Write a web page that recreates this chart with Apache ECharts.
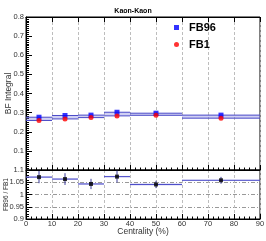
<!DOCTYPE html>
<html><head><meta charset="utf-8">
<script src="https://cdn.jsdelivr.net/npm/echarts@6/dist/echarts.min.js"></script>
<style>html,body{margin:0;padding:0;background:#fff}#c{width:266px;height:241px}</style>
</head><body><div id="c"></div>
<script>
const binEdges = [0, 10, 20, 30, 40, 60, 90];
const centers = [5, 15, 25, 35, 50, 75];
const fb96 = [0.276, 0.285, 0.287, 0.302, 0.297, 0.287];
const fb1 = [0.259, 0.267, 0.274, 0.283, 0.286, 0.271];
const ratio = [1.071, 1.063, 1.043, 1.073, 1.041, 1.058];
const ratioErr = [0.025, 0.024, 0.021, 0.024, 0.015, 0.014];
const ratioBand = [0.003, 0.003, 0.003, 0.003, 0.004, 0.002];
const xTicks = [0, 10, 20, 30, 40, 50, 60, 70, 80, 90];

const FONT = 'Liberation Sans';
const lineCol = '#4a4ac8';
const bandCol = 'rgba(120,120,220,0.35)';
const gridCol = '#bdbdbd';

const topBins = centers.map((c, i) => [binEdges[i], binEdges[i + 1], fb96[i], fb1[i]]);
const botBins = centers.map((c, i) => [binEdges[i], binEdges[i + 1], ratio[i], ratioBand[i]]);
const errBars = centers.map((c, i) => [c, ratio[i], ratioErr[i]]);

function xAxisBase(gi, showLabel) {
  return {
    type: 'value', gridIndex: gi, min: xTicks[0], max: xTicks[xTicks.length - 1], interval: 10,
    axisLine: { show: true, onZero: false, lineStyle: { color: '#000', width: 1 } },
    axisTick: { show: true, inside: true, length: 5, lineStyle: { color: '#000' } },
    minorTick: { show: true, splitNumber: 5, length: 2.5, lineStyle: { color: '#000' } },
    axisLabel: { show: showLabel, fontFamily: FONT, fontSize: 7.5, color: '#333', margin: 1 },
    splitLine: { show: true, lineStyle: { color: gridCol, type: [3, 2], width: 1 } }
  };
}

const option = {
  animation: false,
  title: {
    text: 'Kaon-Kaon', left: 'center', top: 3,
    textStyle: { fontFamily: FONT, fontSize: 7, fontWeight: 'bold', color: '#000' }
  },
  legend: {
    orient: 'vertical', left: 169, top: 17, itemGap: 6,
    itemWidth: 5, itemHeight: 5,
    textStyle: { fontFamily: FONT, fontSize: 11, fontWeight: 'bold', color: '#000', padding: [0, 0, 0, 5] },
    data: [
      { name: 'FB96', icon: 'rect' },
      { name: 'FB1', icon: 'circle' }
    ]
  },
  grid: [
    { left: 26, right: 6, top: 17, height: 153, containLabel: false, outerBoundsMode: 'none', show: true, borderColor: '#000', borderWidth: 1, backgroundColor: 'transparent' },
    { left: 26, right: 6, top: 170, height: 49, containLabel: false, outerBoundsMode: 'none', show: true, borderColor: '#000', borderWidth: 1, backgroundColor: 'transparent' }
  ],
  xAxis: [
    xAxisBase(0, false),
    Object.assign(xAxisBase(1, true), {
      name: 'Centrality (%)', nameLocation: 'middle', nameGap: 8, nameMoveOverlap: false,
      nameTextStyle: { fontFamily: FONT, fontSize: 8.5, color: '#333' }
    }),
    Object.assign(xAxisBase(0, false), { position: 'top', splitLine: { show: false }, minorTick: { show: false } })
  ],
  yAxis: [
    {
      type: 'value', gridIndex: 0, min: 0, max: 0.8, interval: 0.1,
      name: 'BF Integral', nameLocation: 'middle', nameGap: 13, nameMoveOverlap: false,
      nameTextStyle: { fontFamily: FONT, fontSize: 8.5, color: '#333' },
      axisLine: { show: true, lineStyle: { color: '#000' } },
      axisTick: { show: true, inside: true, length: 6, lineStyle: { color: '#000' } },
      minorTick: { show: true, splitNumber: 10, length: 3, lineStyle: { color: '#000' } },
      axisLabel: { fontFamily: FONT, fontSize: 7.5, color: '#333', margin: 2,
        formatter: v => v === 0 ? '' : v.toFixed(1) },
      splitLine: { show: false }
    },
    {
      type: 'value', gridIndex: 1, min: 0.9, max: 1.1, interval: 0.05,
      name: 'FB96 / FB1', nameLocation: 'middle', nameGap: 16, nameMoveOverlap: false,
      nameTextStyle: { fontFamily: FONT, fontSize: 6.5, color: '#333' },
      axisLine: { show: true, lineStyle: { color: '#000' } },
      axisTick: { show: true, inside: true, length: 6, lineStyle: { color: '#000' } },
      minorTick: { show: true, splitNumber: 5, length: 3, lineStyle: { color: '#000' } },
      axisLabel: { fontFamily: FONT, fontSize: 7.5, color: '#333', margin: 2,
        formatter: v => String(+v.toFixed(2)) },
      splitLine: { show: true, lineStyle: { color: '#999', type: [4, 2, 1, 2], width: 1 } }
    }
  ],
  series: [
    {
      type: 'custom', xAxisIndex: 0, yAxisIndex: 0, silent: true, z: 3,
      data: topBins,
      renderItem: (params, api) => {
        const lo = api.value(0), hi = api.value(1), a = api.value(2), b = api.value(3);
        const p1 = api.coord([lo, Math.max(a, b)]);
        const p2 = api.coord([hi, Math.min(a, b)]);
        const pa1 = api.coord([lo, a]), pa2 = api.coord([hi, a]);
        const pb1 = api.coord([lo, b]), pb2 = api.coord([hi, b]);
        return { type: 'group', children: [
          { type: 'rect', shape: { x: p1[0], y: p1[1], width: p2[0] - p1[0], height: p2[1] - p1[1] }, style: { fill: bandCol } },
          { type: 'line', shape: { x1: pa1[0], y1: pa1[1], x2: pa2[0], y2: pa2[1] }, style: { stroke: lineCol, lineWidth: 1 } },
          { type: 'line', shape: { x1: pb1[0], y1: pb1[1], x2: pb2[0], y2: pb2[1] }, style: { stroke: lineCol, lineWidth: 1 } }
        ] };
      }
    },
    {
      name: 'FB96', type: 'scatter', xAxisIndex: 0, yAxisIndex: 0, symbol: 'rect', symbolSize: 5, z: 5,
      itemStyle: { color: '#0000ff' },
      data: centers.map((c, i) => [c, fb96[i]])
    },
    {
      name: 'FB1', type: 'scatter', xAxisIndex: 0, yAxisIndex: 0, symbol: 'circle', symbolSize: 5, z: 5,
      itemStyle: { color: '#ff0000' },
      data: centers.map((c, i) => [c, fb1[i]])
    },
    {
      type: 'custom', xAxisIndex: 1, yAxisIndex: 1, silent: true, z: 3,
      data: botBins,
      renderItem: (params, api) => {
        const lo = api.value(0), hi = api.value(1), r = api.value(2), e = api.value(3);
        const p1 = api.coord([lo, r + e]), p2 = api.coord([hi, r - e]);
        const l1 = api.coord([lo, r]), l2 = api.coord([hi, r]);
        return { type: 'group', children: [
          { type: 'rect', shape: { x: p1[0], y: p1[1], width: p2[0] - p1[0], height: p2[1] - p1[1] }, style: { fill: bandCol } },
          { type: 'line', shape: { x1: l1[0], y1: l1[1], x2: l2[0], y2: l2[1] }, style: { stroke: lineCol, lineWidth: 1 } }
        ] };
      }
    },
    {
      type: 'custom', xAxisIndex: 1, yAxisIndex: 1, silent: true, z: 4,
      data: errBars,
      renderItem: (params, api) => {
        const c = api.value(0), r = api.value(1), e = api.value(2);
        const a = api.coord([c, r + e]), b = api.coord([c, r - e]);
        return { type: 'line', shape: { x1: a[0], y1: a[1], x2: b[0], y2: b[1] }, style: { stroke: '#3a3a9a', lineWidth: 1 } };
      }
    },
    {
      type: 'scatter', xAxisIndex: 1, yAxisIndex: 1, symbol: 'rect', symbolSize: 4, z: 5,
      itemStyle: { color: '#000' },
      data: centers.map((c, i) => [c, ratio[i]])
    }
  ]
};
const chart = echarts.init(document.getElementById('c'), null, { renderer: 'canvas' });
chart.setOption(option);
</script>
</body></html>
